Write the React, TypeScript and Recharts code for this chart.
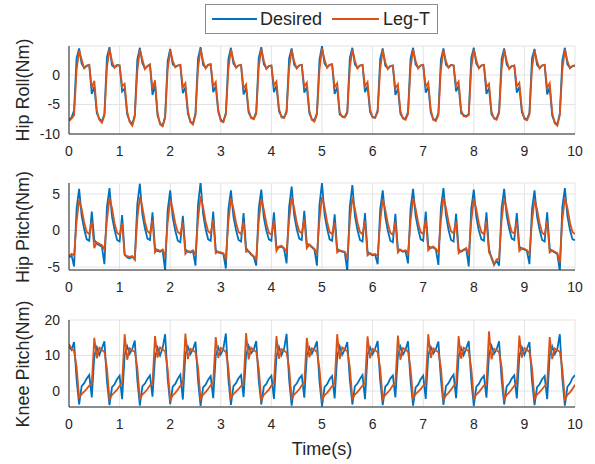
import { LineChart, Line, XAxis, YAxis, CartesianGrid } from "recharts";

// Three stacked torque panels: desired vs Leg-T tracking over 10 s.

const BLUE = "#0072bd";
const ORANGE = "#d95319";
const FONT = "'Liberation Sans', Arial, sans-serif";

const TIME = [
  0, 0.05, 0.1, 0.15, 0.2, 0.25, 0.3, 0.35, 0.4, 0.45, 0.5, 0.55,
  0.6, 0.65, 0.7, 0.75, 0.8, 0.85, 0.9, 0.95, 1, 1.05, 1.1, 1.15,
  1.2, 1.25, 1.3, 1.35, 1.4, 1.45, 1.5, 1.55, 1.6, 1.65, 1.7, 1.75,
  1.8, 1.85, 1.9, 1.95, 2, 2.05, 2.1, 2.15, 2.2, 2.25, 2.3, 2.35,
  2.4, 2.45, 2.5, 2.55, 2.6, 2.65, 2.7, 2.75, 2.8, 2.85, 2.9, 2.95,
  3, 3.05, 3.1, 3.15, 3.2, 3.25, 3.3, 3.35, 3.4, 3.45, 3.5, 3.55,
  3.6, 3.65, 3.7, 3.75, 3.8, 3.85, 3.9, 3.95, 4, 4.05, 4.1, 4.15,
  4.2, 4.25, 4.3, 4.35, 4.4, 4.45, 4.5, 4.55, 4.6, 4.65, 4.7, 4.75,
  4.8, 4.85, 4.9, 4.95, 5, 5.05, 5.1, 5.15, 5.2, 5.25, 5.3, 5.35,
  5.4, 5.45, 5.5, 5.55, 5.6, 5.65, 5.7, 5.75, 5.8, 5.85, 5.9, 5.95,
  6, 6.05, 6.1, 6.15, 6.2, 6.25, 6.3, 6.35, 6.4, 6.45, 6.5, 6.55,
  6.6, 6.65, 6.7, 6.75, 6.8, 6.85, 6.9, 6.95, 7, 7.05, 7.1, 7.15,
  7.2, 7.25, 7.3, 7.35, 7.4, 7.45, 7.5, 7.55, 7.6, 7.65, 7.7, 7.75,
  7.8, 7.85, 7.9, 7.95, 8, 8.05, 8.1, 8.15, 8.2, 8.25, 8.3, 8.35,
  8.4, 8.45, 8.5, 8.55, 8.6, 8.65, 8.7, 8.75, 8.8, 8.85, 8.9, 8.95,
  9, 9.05, 9.1, 9.15, 9.2, 9.25, 9.3, 9.35, 9.4, 9.45, 9.5, 9.55,
  9.6, 9.65, 9.7, 9.75, 9.8, 9.85, 9.9, 9.95, 10,
];

// Hip roll (Nm)
const HR_DES = [
  -7.6, -7.2, -6.0, 2.9, 4.5, 1.9, 1.2, 1.6, 1.7, -3.2, -2.0, -6.5,
  -7.4, -7.9, -6.6, 3.0, 4.7, 1.6, 1.3, 1.7, 1.6, -2.8, -2.3, -6.7,
  -7.8, -8.4, -6.8, 2.6, 4.6, 2.0, 1.1, 1.5, 1.8, -3.4, -1.6, -6.9,
  -8.2, -8.6, -7.0, 2.4, 4.4, 1.8, 1.4, 1.6, 1.7, -3.1, -2.1, -6.6,
  -7.9, -8.2, -6.5, 2.8, 4.7, 1.7, 1.2, 1.7, 1.8, -2.9, -1.9, -6.3,
  -7.6, -7.9, -6.4, 2.7, 4.6, 1.9, 1.3, 1.6, 1.7, -3.3, -2.2, -6.4,
  -7.2, -7.4, -6.3, 2.9, 4.7, 1.8, 1.1, 1.5, 1.6, -2.9, -1.8, -6.2,
  -7.0, -7.2, -6.1, 2.8, 4.5, 1.7, 1.2, 1.6, 1.7, -3.0, -2.0, -6.5,
  -7.5, -7.7, -6.4, 2.6, 4.9, 1.9, 1.3, 1.7, 1.8, -3.2, -2.1, -6.7,
  -7.0, -7.1, -6.2, 2.9, 4.6, 1.8, 1.2, 1.6, 1.7, -2.9, -1.9, -6.3,
  -7.1, -7.2, -6.0, 2.7, 4.5, 1.6, 1.1, 1.5, 1.6, -3.4, -2.3, -6.6,
  -7.3, -7.4, -6.3, 2.8, 4.6, 1.8, 1.2, 1.6, 1.7, -3.0, -2.0, -6.4,
  -7.5, -7.6, -6.5, 2.6, 4.5, 1.7, 1.3, 1.7, 1.6, -2.8, -1.8, -6.5,
  -6.8, -7.0, -6.6, 2.9, 4.6, 1.9, 1.2, 1.6, 1.7, -3.2, -2.2, -6.7,
  -7.3, -7.4, -6.2, 2.7, 4.5, 1.8, 1.1, 1.5, 1.6, -3.0, -2.0, -6.3,
  -7.3, -7.5, -6.4, 2.8, 4.4, 1.7, 1.2, 1.6, 1.7, -3.3, -2.1, -6.9,
  -8.0, -8.4, -6.5, 2.5, 4.6, 1.8, 1.2, 1.5, 1.6,
];
const HR_LEG = [
  -7.8, -7.4, -6.8, 0.8, 4.1, 2.6, 1.1, 1.5, 1.7, -2.2, -1.0, -6.0,
  -7.6, -8.1, -6.9, 1.2, 4.4, 2.3, 1.2, 1.6, 1.6, -1.9, -1.5, -6.2,
  -8.0, -8.6, -7.1, 0.6, 4.3, 2.6, 1.0, 1.5, 1.7, -2.4, -0.9, -6.4,
  -8.4, -8.7, -7.3, 0.9, 4.2, 2.4, 1.3, 1.6, 1.7, -2.1, -1.4, -6.1,
  -8.0, -8.4, -6.8, 1.1, 4.4, 2.3, 1.1, 1.7, 1.8, -1.9, -1.2, -5.9,
  -7.8, -8.0, -6.7, 1.0, 4.3, 2.5, 1.2, 1.6, 1.7, -2.3, -1.6, -6.0,
  -7.3, -7.5, -6.6, 1.3, 4.4, 2.4, 1.0, 1.5, 1.6, -1.8, -1.1, -5.7,
  -7.2, -7.3, -6.4, 1.1, 4.2, 2.3, 1.1, 1.6, 1.7, -2.0, -1.3, -6.0,
  -7.6, -7.9, -6.7, 0.9, 4.5, 2.6, 1.2, 1.7, 1.8, -2.1, -1.4, -6.3,
  -7.1, -7.2, -6.5, 1.2, 4.3, 2.4, 1.1, 1.6, 1.7, -1.9, -1.2, -5.8,
  -7.2, -7.3, -6.3, 1.0, 4.2, 2.2, 1.0, 1.5, 1.6, -2.3, -1.6, -6.1,
  -7.4, -7.6, -6.6, 1.1, 4.3, 2.4, 1.1, 1.6, 1.7, -2.0, -1.3, -5.9,
  -7.6, -7.8, -6.8, 0.9, 4.2, 2.3, 1.2, 1.7, 1.6, -1.8, -1.1, -6.0,
  -7.0, -7.1, -6.8, 1.2, 4.3, 2.5, 1.1, 1.6, 1.7, -2.1, -1.5, -6.2,
  -7.4, -7.6, -6.5, 1.0, 4.2, 2.4, 1.0, 1.5, 1.6, -1.9, -1.3, -5.8,
  -7.5, -7.7, -6.7, 1.1, 4.1, 2.3, 1.1, 1.6, 1.7, -2.2, -1.4, -6.4,
  -8.2, -8.6, -6.8, 0.8, 4.3, 2.4, 1.1, 1.5, 1.6,
];

// Hip pitch (Nm)
const HP_DES = [
  -3.7, -3.4, -4.9, 3.0, 5.7, 2.0, 0.2, -1.2, -1.4, 2.6, -1.3, -1.8,
  -2.0, -2.2, -4.6, 3.2, 5.8, 1.9, 0.1, -1.3, -1.5, 2.1, -3.2, -3.7,
  -3.8, -3.6, -3.9, 3.6, 6.4, 2.2, 0.3, -1.1, -1.3, 2.5, -2.4, -2.8,
  -2.9, -2.7, -5.5, 2.8, 5.5, 1.8, 0.0, -1.4, -1.6, 2.0, -2.6, -2.9,
  -3.0, -2.8, -4.8, 3.5, 6.6, 2.3, 0.2, -1.2, -1.4, 2.6, -2.7, -3.0,
  -3.1, -3.2, -5.2, 2.9, 5.5, 1.9, 0.1, -1.3, -1.5, 2.4, -2.4, -2.9,
  -3.3, -3.6, -4.8, 3.0, 5.6, 1.8, 0.0, -1.2, -1.4, 2.5, -2.3, -2.3,
  -2.2, -2.5, -4.5, 3.2, 6.0, 2.1, 0.2, -1.1, -1.3, 2.7, -1.8, -2.0,
  -2.3, -2.6, -4.8, 3.5, 6.5, 2.2, 0.3, -1.2, -1.4, 2.2, -2.5, -2.8,
  -2.9, -3.0, -5.6, 3.3, 6.2, 2.0, 0.1, -1.3, -1.5, 2.4, -2.9, -3.2,
  -3.4, -3.3, -4.6, 2.9, 5.5, 1.9, 0.0, -1.4, -1.6, 2.3, -2.5, -2.7,
  -2.9, -2.8, -4.5, 3.0, 5.7, 2.0, 0.2, -1.2, -1.4, 2.6, -2.1, -2.4,
  -2.3, -2.6, -4.7, 3.1, 5.8, 2.1, 0.1, -1.3, -1.5, 2.3, -2.6, -2.9,
  -2.7, -2.5, -4.9, 3.0, 5.6, 1.8, 0.0, -1.2, -1.4, 2.5, -2.5, -3.8,
  -4.7, -4.1, -4.8, 3.1, 5.7, 2.0, 0.2, -1.1, -1.3, 2.4, -2.2, -2.5,
  -2.6, -2.8, -4.6, 2.9, 5.5, 1.9, 0.1, -1.3, -1.5, 2.5, -2.5, -2.8,
  -3.0, -3.2, -5.6, 3.2, 5.8, 2.0, 0.1, -1.2, -1.3,
];
const HP_LEG = [
  -3.5, -3.2, -3.4, 1.2, 4.2, 3.0, 1.1, -0.2, -0.5, 1.2, -2.4, -1.6,
  -1.8, -2.0, -2.6, 1.4, 4.4, 3.1, 1.0, -0.3, -0.6, 1.0, -3.4, -3.5,
  -3.6, -3.5, -4.0, 1.6, 4.6, 3.2, 1.2, -0.1, -0.4, 1.4, -3.0, -2.6,
  -2.8, -2.6, -3.6, 1.1, 4.2, 2.9, 1.0, -0.2, -0.5, 1.1, -3.2, -2.8,
  -2.9, -2.7, -3.3, 1.5, 4.7, 3.2, 1.2, -0.1, -0.4, 1.5, -3.1, -2.9,
  -3.0, -3.1, -3.8, 1.2, 4.4, 3.0, 1.1, -0.2, -0.5, 1.2, -2.9, -2.8,
  -3.2, -3.5, -3.9, 1.3, 4.3, 2.9, 1.0, -0.3, -0.6, 1.3, -2.8, -2.2,
  -2.1, -2.4, -2.9, 1.4, 4.5, 3.1, 1.1, -0.1, -0.4, 1.6, -2.4, -1.9,
  -2.2, -2.5, -3.2, 1.5, 4.6, 3.2, 1.2, -0.2, -0.5, 1.1, -3.0, -2.7,
  -2.8, -2.9, -3.8, 1.3, 4.5, 3.0, 1.1, -0.2, -0.5, 1.3, -3.4, -3.1,
  -3.3, -3.2, -3.5, 1.2, 4.3, 2.9, 1.0, -0.3, -0.6, 1.2, -3.0, -2.6,
  -2.8, -2.7, -3.1, 1.3, 4.4, 3.0, 1.1, -0.2, -0.5, 1.4, -2.7, -2.3,
  -2.2, -2.5, -3.0, 1.4, 4.5, 3.1, 1.2, -0.1, -0.4, 1.2, -3.1, -2.8,
  -2.6, -2.4, -3.3, 1.3, 4.3, 2.9, 1.0, -0.2, -0.5, 1.3, -3.0, -3.6,
  -4.6, -4.0, -3.8, 1.4, 4.4, 3.0, 1.1, -0.2, -0.4, 1.2, -2.8, -2.4,
  -2.5, -2.7, -3.2, 1.2, 4.2, 2.9, 1.0, -0.3, -0.6, 1.3, -3.0, -2.7,
  -2.9, -3.1, -4.4, 1.5, 4.4, 3.1, 1.1, -0.2, -0.5,
];

// Knee pitch (Nm)
const KP_DES = [
  12.5, 11.6, 13.8, 3.2, -3.8, 1.4, 2.2, 3.5, 4.5, -1.8, 9.8, 12.3,
  10.2, 12.0, 14.0, 2.8, -4.0, 1.1, 1.9, 3.3, 4.3, -2.3, 10.2, 12.6,
  10.5, 11.8, 14.2, 3.1, -4.1, 1.3, 2.1, 3.4, 4.4, -1.6, 9.5, 12.2,
  10.0, 12.1, 16.0, 3.5, -3.7, 1.2, 2.0, 3.5, 4.6, -2.4, 10.4, 12.5,
  10.4, 11.7, 13.9, 2.9, -4.2, 1.0, 1.8, 3.2, 4.2, -2.0, 9.9, 12.3,
  10.3, 11.9, 16.2, 3.3, -3.9, 1.4, 2.2, 3.6, 4.5, -1.7, 10.1, 12.7,
  10.6, 11.6, 14.1, 3.0, -3.8, 1.2, 2.0, 3.4, 4.3, -2.2, 9.7, 12.4,
  10.1, 11.8, 16.1, 3.2, -4.1, 1.3, 2.1, 3.5, 4.4, -1.9, 10.0, 12.2,
  10.5, 12.0, 14.0, 2.8, -4.3, 1.1, 1.9, 3.3, 4.2, -2.1, 9.8, 12.6,
  10.2, 11.7, 13.8, 3.1, -3.8, 1.3, 2.1, 3.4, 4.5, -2.3, 10.3, 12.3,
  10.4, 11.9, 14.1, 3.0, -4.0, 1.2, 2.0, 3.5, 4.4, -1.8, 9.9, 12.5,
  10.3, 11.6, 14.0, 2.9, -4.1, 1.0, 1.8, 3.3, 4.3, -2.2, 10.1, 12.4,
  10.6, 11.8, 13.9, 3.2, -3.9, 1.4, 2.2, 3.6, 4.6, -2.0, 9.6, 12.2,
  10.1, 12.0, 14.1, 3.0, -4.2, 1.2, 2.0, 3.4, 4.3, -1.9, 10.2, 12.7,
  10.5, 11.7, 14.0, 3.1, -3.8, 1.3, 2.1, 3.5, 4.4, -2.1, 9.8, 12.3,
  10.2, 11.9, 13.8, 2.9, -4.0, 1.1, 1.9, 3.3, 4.2, -2.3, 10.0, 12.5,
  10.4, 11.8, 16.0, 3.3, -4.1, 1.2, 2.1, 3.6, 4.5,
];
const KP_LEG = [
  13.2, 12.0, 11.2, 6.8, -1.8, -0.9, -0.2, 0.6, 1.5, 2.1, 15.0, 9.2,
  12.2, 11.6, 11.0, 6.4, -2.4, -1.1, -0.4, 0.4, 1.4, 2.3, 16.0, 8.8,
  12.0, 11.4, 11.1, 6.6, -2.2, -1.0, -0.3, 0.5, 1.6, 2.2, 15.5, 9.4,
  12.3, 11.7, 11.2, 6.2, -2.6, -1.2, -0.5, 0.4, 1.5, 2.0, 16.2, 9.0,
  11.9, 11.5, 10.9, 6.7, -2.3, -1.0, -0.3, 0.6, 1.6, 2.3, 15.2, 9.3,
  12.1, 11.6, 11.0, 6.5, -2.0, -0.9, -0.2, 0.5, 1.4, 2.1, 16.3, 8.9,
  12.2, 11.5, 11.1, 6.3, -2.5, -1.1, -0.4, 0.4, 1.5, 2.2, 15.5, 9.1,
  11.8, 11.4, 10.8, 6.6, -2.1, -1.0, -0.3, 0.5, 1.6, 2.4, 15.0, 9.5,
  12.0, 11.6, 11.0, 6.4, -2.4, -1.2, -0.5, 0.4, 1.4, 2.1, 16.0, 9.0,
  12.3, 11.7, 11.2, 6.7, -2.2, -1.0, -0.3, 0.6, 1.5, 2.2, 15.4, 9.2,
  11.9, 11.5, 10.9, 6.5, -2.3, -1.1, -0.4, 0.5, 1.6, 2.3, 15.6, 8.8,
  12.1, 11.6, 11.1, 6.3, -2.0, -0.9, -0.2, 0.5, 1.5, 2.1, 16.0, 9.3,
  12.0, 11.4, 11.0, 6.6, -2.5, -1.2, -0.5, 0.4, 1.4, 2.2, 15.5, 9.1,
  12.2, 11.7, 11.2, 6.4, -2.1, -1.0, -0.3, 0.6, 1.6, 2.0, 16.8, 8.9,
  11.9, 11.5, 10.9, 6.7, -2.4, -1.1, -0.4, 0.5, 1.5, 2.3, 15.6, 9.4,
  12.1, 11.6, 11.0, 6.5, -2.2, -1.0, -0.3, 0.5, 1.4, 2.2, 15.2, 9.0,
  12.0, 11.5, 11.1, 6.3, -2.3, -1.1, -0.4, 0.6, 1.8,
];

const X_TICKS = [0, 1, 2, 3, 4, 5, 6, 7, 8, 9, 10];
const HR_TICKS = [-10, -5, 0];
const HP_TICKS = [-5, 0, 5];
const KP_TICKS = [0, 10, 20];

const data = TIME.map((t, i) => ({
  t,
  hrDes: HR_DES[i], hrLeg: HR_LEG[i],
  hpDes: HP_DES[i], hpLeg: HP_LEG[i],
  kpDes: KP_DES[i], kpLeg: KP_LEG[i],
}));

interface PanelProps {
  top: number;
  plotTop: number;
  plotBottom: number;
  label: string;
  desKey: string;
  legKey: string;
  domain: [number, number];
  ticks: number[];
}

function Panel({ top, plotTop, plotBottom, label, desKey, legKey, domain, ticks }: PanelProps) {
  const height = plotBottom - top + 25;
  const tickStyle = { fill: "#262626", fontSize: 14, fontFamily: FONT };
  return (
    <div style={{ position: "absolute", left: 0, top, width: 595, height }}>
      <LineChart width={595} height={height} data={data} margin={{ top: plotTop - top, right: 20, bottom: 0, left: 0 }}>
        <CartesianGrid stroke="#e3e3e3" strokeWidth={1} />
        <XAxis
          type="number" dataKey="t" domain={[0, 10]} ticks={X_TICKS} height={25}
          tick={tickStyle} tickLine={false} tickSize={6} tickMargin={6}
          axisLine={{ stroke: "#262626" }} allowDataOverflow
        />
        <YAxis
          type="number" domain={domain} ticks={ticks} width={69}
          tick={tickStyle} tickLine={false} tickSize={6} tickMargin={3}
          axisLine={{ stroke: "#262626" }} allowDataOverflow
        />
        <Line type="linear" dataKey={desKey} stroke={BLUE} strokeWidth={1.8} dot={false} isAnimationActive={false} />
        <Line type="linear" dataKey={legKey} stroke={ORANGE} strokeWidth={1.8} dot={false} isAnimationActive={false} />
      </LineChart>
      <div
        style={{
          position: "absolute", left: 23, top: (plotTop + plotBottom) / 2 - top,
          transform: "translate(-50%, -50%) rotate(-90deg)", whiteSpace: "nowrap",
          fontFamily: FONT, fontSize: 18, color: "#262626",
        }}
      >
        {label}
      </div>
    </div>
  );
}

export default function App() {
  return (
    <div style={{ position: "absolute", left: 0, top: 0, width: 595, height: 464, background: "#fff", fontFamily: FONT }}>
      <Panel top={0} plotTop={46} plotBottom={134} label="Hip Roll(Nm)" desKey="hrDes" legKey="hrLeg" domain={[-10, 4.9]} ticks={HR_TICKS} />
      <Panel top={140} plotTop={183} plotBottom={270} label="Hip Pitch(Nm)" desKey="hpDes" legKey="hpLeg" domain={[-5.4, 6.5]} ticks={HP_TICKS} />
      <Panel top={280} plotTop={320} plotBottom={407} label="Knee Pitch(Nm)" desKey="kpDes" legKey="kpLeg" domain={[-4.5, 20]} ticks={KP_TICKS} />

      {/* legend box */}
      <div
        style={{
          position: "absolute", left: 205, top: 4, width: 231, height: 28,
          border: "1px solid #8c8c8c", background: "#fff",
          display: "flex", alignItems: "center", fontSize: 18, color: "#262626",
        }}
      >
        <span style={{ display: "inline-block", width: 45, height: 2, background: BLUE, marginLeft: 6 }} />
        <span style={{ marginLeft: 3 }}>Desired</span>
        <span style={{ display: "inline-block", width: 47, height: 2, background: ORANGE, marginLeft: 10 }} />
        <span style={{ marginLeft: 4 }}>Leg-T</span>
      </div>

      <div style={{ position: "absolute", left: 322, top: 449, transform: "translate(-50%, -50%)", fontSize: 18, color: "#262626" }}>
        Time(s)
      </div>
    </div>
  );
}
